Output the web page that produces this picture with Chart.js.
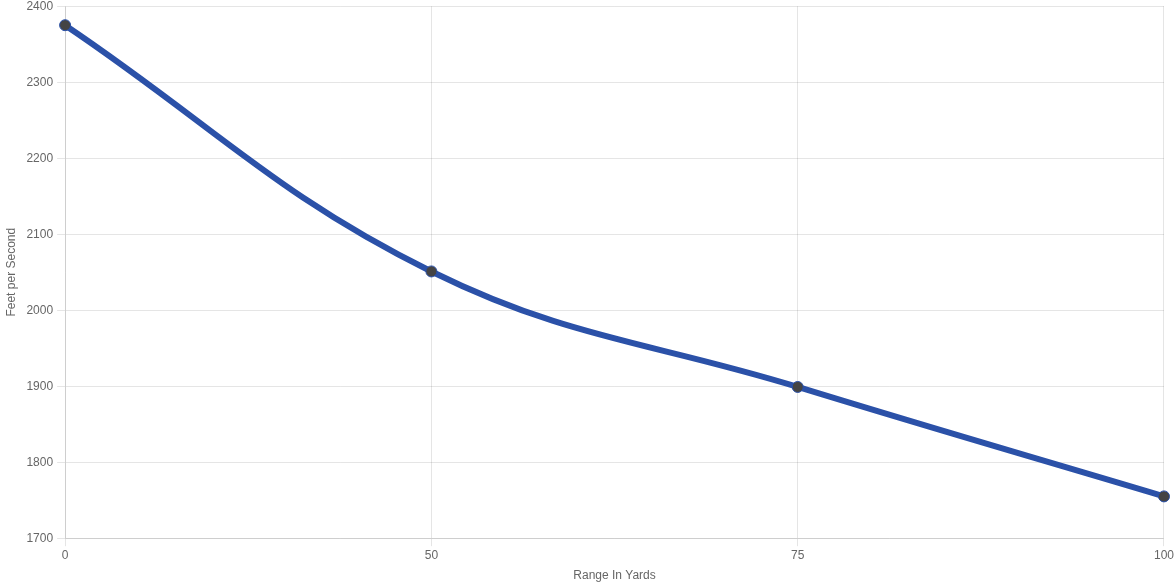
<!DOCTYPE html>
<html><head><meta charset="utf-8">
<script src="https://cdn.jsdelivr.net/npm/chart.js@4/dist/chart.umd.min.js"></script>
<style>html,body{margin:0;padding:0;background:#fff;overflow:hidden}#wrap{width:1176px;height:588px;margin-top:-5px}</style>
</head><body><div id="wrap"><canvas id="c"></canvas></div>
<script>
const categories = ['0', '50', '75', '100'];
const velocity = [2375, 2051, 1899, 1755];
const yMin = 1700, yMax = 2400, yStep = 100;
Chart.defaults.font.family = '"Liberation Sans", Arial, sans-serif';
Chart.defaults.font.size = 12;
Chart.defaults.color = '#666';
new Chart(document.getElementById('c'), {
  type: 'line',
  data: { labels: categories, datasets: [{
    data: velocity,
    borderColor: '#2b51a8',
    borderWidth: 6,
    tension: 0.4,
    pointRadius: 5.5,
    pointBackgroundColor: '#444',
    pointBorderColor: '#2b51a8',
    pointBorderWidth: 1,
    fill: false
  }]},
  options: {
    responsive: true, maintainAspectRatio: false, animation: false,
    plugins: { legend: { display: false }, tooltip: { enabled: false } },
    layout: { padding: { right: 12 } },
    scales: {
      x: { offset: false, title: { display: true, text: 'Range In Yards', padding: { top: 4, bottom: 0 } },
           grid: { color: 'rgba(0,0,0,0.1)' }, ticks: { padding: 2 } },
      y: { min: yMin, max: yMax,
           ticks: { stepSize: yStep, padding: 4, callback: v => String(v) },
           title: { display: true, text: 'Feet per Second' },
           grid: { color: 'rgba(0,0,0,0.1)' } }
    }
  }
});
</script></body></html>
